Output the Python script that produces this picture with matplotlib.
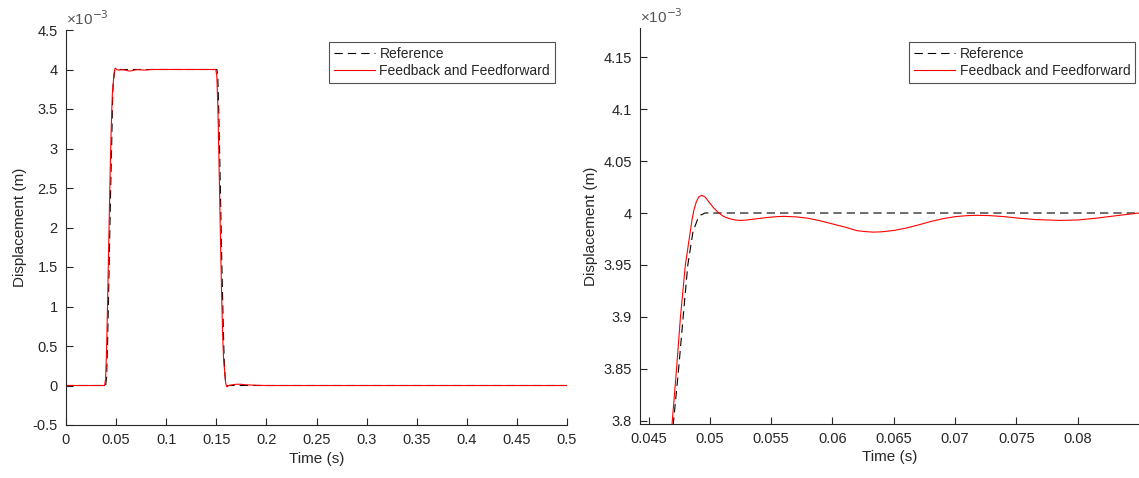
import matplotlib
matplotlib.use("Agg")
import matplotlib.pyplot as plt
from matplotlib.ticker import FuncFormatter, FixedLocator

plt.rcParams['font.family'] = ['Liberation Sans', 'DejaVu Sans']

# ---- data (displacement in units of 1e-3 m) ----
ref_t = [0.0000, 0.0395, 0.0405, 0.0415, 0.0425, 0.0435, 0.0445, 0.0455, 0.0463, 0.0467,
         0.0470, 0.04745, 0.04782, 0.04820, 0.04862, 0.0490, 0.04925, 0.0496, 0.1506,
         0.1515, 0.1525, 0.1535, 0.1545, 0.1555, 0.1565, 0.1573, 0.1578, 0.15829, 0.15862,
         0.15891, 0.15924, 0.15965, 0.1601, 0.1603, 0.1607, 0.5000]
ref_y = [0.0, 0.0, 0.10, 0.55, 1.15, 1.8, 2.45, 3.0, 3.50, 3.71,
         3.795, 3.850, 3.900, 3.950, 3.982, 3.994, 3.998, 4.000, 4.000,
         3.90, 3.45, 2.85, 2.2, 1.55, 1.0, 0.58, 0.35, 0.205, 0.15,
         0.10, 0.05, 0.018, 0.006, 0.003, 0.0, 0.0]

fb_t = [0.0000, 0.0385, 0.0395, 0.0405, 0.0415, 0.0425, 0.0435, 0.0445, 0.0455, 0.0463,
        0.0469, 0.04728, 0.04760, 0.04800, 0.04840, 0.04855, 0.0487, 0.0489, 0.0491, 0.04933,
        0.0496, 0.0499, 0.0503, 0.0507, 0.0511, 0.0516, 0.0521, 0.05245, 0.0528,
        0.0532, 0.0542, 0.0551, 0.05599, 0.0570, 0.0580, 0.0590, 0.0600, 0.0610,
        0.0620, 0.0627, 0.06333, 0.0640, 0.0650, 0.0660, 0.0670, 0.0680, 0.0690,
        0.0700, 0.0710, 0.07176, 0.0728, 0.0740, 0.0752, 0.0765, 0.07856, 0.0800,
        0.0815, 0.0830, 0.0850,
        0.1000, 0.1495, 0.1505, 0.1515, 0.1525, 0.1535, 0.1545, 0.1555, 0.1565, 0.1573,
        0.1582, 0.1585, 0.1589, 0.1592, 0.1596, 0.1600, 0.1603, 0.1607, 0.1612, 0.1617,
        0.1625, 0.1650, 0.1700, 0.1740, 0.1800, 0.1900, 0.2000, 0.5000]
fb_y = [0.0, 0.0, 0.08, 0.45, 1.05, 1.7, 2.35, 2.95, 3.42, 3.70,
        3.795, 3.850, 3.900, 3.950, 3.982, 3.994, 4.003, 4.011, 4.0155, 4.017,
        4.0155, 4.011, 4.005, 4.0003, 3.9968, 3.9945, 3.9932, 3.9929, 3.9930,
        3.9936, 3.9950, 3.9962, 3.9968, 3.9963, 3.9950, 3.9925, 3.9895, 3.9865,
        3.9830, 3.9821, 3.9816, 3.9819, 3.9832, 3.9855, 3.9885, 3.9918, 3.9945,
        3.9965, 3.9975, 3.9978, 3.9975, 3.9965, 3.9950, 3.9937, 3.9929, 3.9933,
        3.9950, 3.9972, 4.0000,
        4.0005, 4.0, 3.92, 3.55, 2.95, 2.3, 1.65, 1.05, 0.58, 0.32,
        0.205, 0.15, 0.10, 0.05, 0.018, 0.0, -0.013, -0.017, -0.013, -0.006,
        0.0, 0.007, 0.016, 0.016, 0.008, 0.003, 0.0, 0.0]

left_xticks = [0, 0.05, 0.1, 0.15, 0.2, 0.25, 0.3, 0.35, 0.4, 0.45, 0.5]
left_yticks = [-0.5, 0, 0.5, 1, 1.5, 2, 2.5, 3, 3.5, 4, 4.5]
right_xticks = [0.045, 0.05, 0.055, 0.06, 0.065, 0.07, 0.075, 0.08]
right_yticks = [3.8, 3.85, 3.9, 3.95, 4.0, 4.05, 4.1, 4.15]

labels = ["Reference", "Feedback and Feedforward"]

AX = '#262626'
W, H = 1139, 478
fig = plt.figure(figsize=(W / 100, H / 100), dpi=100)

def px_axes(l, t, r, b):
    return fig.add_axes([l / W, 1 - b / H, (r - l) / W, (b - t) / H])

ax1 = px_axes(66, 30, 567, 425)
ax2 = px_axes(640, 28, 1139, 424)

fmt = FuncFormatter(lambda v, p: ('%g' % v).replace('\u2212', '-'))

def style(ax):
    for s in ['top', 'right']:
        ax.spines[s].set_visible(False)
    for s in ['left', 'bottom']:
        ax.spines[s].set_color(AX)
        ax.spines[s].set_linewidth(0.8)
    ax.tick_params(direction='in', length=5, width=0.8, colors=AX,
                   labelsize=10.5, labelcolor=AX, pad=6)
    ax.xaxis.set_major_formatter(fmt)
    ax.yaxis.set_major_formatter(fmt)
    ax.set_xlabel('Time (s)', fontsize=11, color=AX, labelpad=3)
    ax.set_ylabel('Displacement (m)', fontsize=11, color=AX, labelpad=4)
    ax.text(0.0, 1.005, '\u00d710$^{-3}$', transform=ax.transAxes, fontsize=11,
            color='#555555', ha='left', va='bottom')

for ax in (ax1, ax2):
    l1, = ax.plot(ref_t, ref_y, color='black', lw=0.8, label=labels[0])
    l1.set_dashes((7.5, 4.5))
    ax.plot(fb_t, fb_y, color='#ff0000', lw=0.8, label=labels[1])
    style(ax)

ax1.set_xlim(0, 0.5)
ax1.set_ylim(-0.5, 4.5)
ax1.xaxis.set_major_locator(FixedLocator(left_xticks))
ax1.yaxis.set_major_locator(FixedLocator(left_yticks))

ax2.set_xlim(0.0443, 0.0850)
ax2.set_ylim(3.797, 4.178)
ax2.xaxis.set_major_locator(FixedLocator(right_xticks))
ax2.yaxis.set_major_locator(FixedLocator(right_yticks))

for ax, anchor in ((ax1, (0.976, 0.97)), (ax2, (0.992, 0.965))):
    leg = ax.legend(loc='upper right', bbox_to_anchor=anchor, fontsize=10,
                    frameon=True, fancybox=False, handlelength=3.0,
                    handletextpad=0.3, borderpad=0.35, labelspacing=0.25,
                    borderaxespad=0)
    leg.get_frame().set_edgecolor(AX)
    leg.get_frame().set_linewidth(0.8)
    for t in leg.get_texts():
        t.set_color(AX)

fig.savefig('out.png', dpi=100)
